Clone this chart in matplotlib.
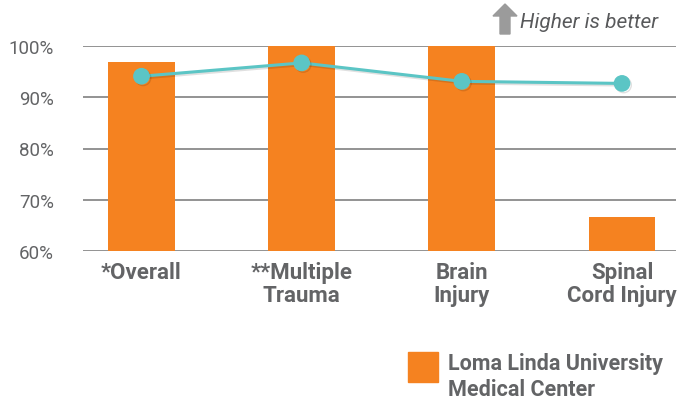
import matplotlib
matplotlib.use("Agg")
import matplotlib.pyplot as plt
import matplotlib.patheffects as pe
from matplotlib.patches import FancyArrow, Rectangle

categories = ["*Overall", "**Multiple\nTrauma", "Brain\nInjury", "Spinal\nCord Injury"]
bar_values = [96.9, 100.0, 100.0, 66.6]
line_values = [94.1, 96.7, 93.1, 92.7]
y_ticks = [60, 70, 80, 90, 100]
y_tick_labels = ["60%", "70%", "80%", "90%", "100%"]
legend_label = "Loma Linda University\nMedical Center"
note_text = "Higher is better"

ORANGE = "#f58220"
TEAL = "#5bc5c5"
GREY = "#636466"
FONT = ["Roboto", "DejaVu Sans"]

fig = plt.figure(figsize=(6.78, 4.02), dpi=100)
W, H = 678, 402
ax = fig.add_axes([83 / W, 1 - 252 / H, (676 - 83) / W, (252 - 47) / H])

x = list(range(len(categories)))
ax.bar(x, bar_values, width=0.418, color=ORANGE, zorder=3, bottom=0)
ax.set_ylim(60, 100)
ax.set_xlim(-0.365, 3.337)

for t in y_ticks:
    ax.axhline(t, color="#8a8a8a", lw=1.3, zorder=1)

ax.plot(x, line_values, color=TEAL, lw=2.2, marker="o", markersize=11,
        markerfacecolor=TEAL, markeredgecolor=TEAL, zorder=5, clip_on=False,
        path_effects=[pe.SimpleLineShadow(offset=(1.2, -1.2), alpha=0.12, shadow_color="black"), pe.Normal()])

for s in ax.spines.values():
    s.set_visible(False)
ax.set_yticks(y_ticks)
ax.set_yticklabels(y_tick_labels, family=FONT, fontsize=13.5, color=GREY)
ax.tick_params(axis="y", length=0, pad=21)
ax.set_xticks(x)
ax.set_xticklabels(categories, family=FONT, fontsize=16, fontweight="bold",
                   color=GREY, linespacing=1.02)
ax.tick_params(axis="x", length=0, pad=7.5)

# "Higher is better" note with arrow
fig.patches.append(FancyArrow(505 / W, 1 - 35 / H, 0, 18 / H, width=10 / W,
                              head_width=24 / W, head_length=12 / H, length_includes_head=False,
                              color="#9b9b9b", transform=fig.transFigure, figure=fig))
fig.text(520 / W, 1 - 23 / H, note_text, family=FONT, fontsize=15, style="italic",
         color="#58595b", va="center", ha="left")

# legend
fig.patches.append(Rectangle((408 / W, 1 - 383 / H), 30 / W, 30 / H, color=ORANGE,
                             transform=fig.transFigure, figure=fig))
fig.text(448 / W, 1 - 377 / H, legend_label, family=FONT, fontsize=15.5, fontweight="bold",
         color=GREY, va="center", ha="left", linespacing=1.25)

fig.savefig("out.png", dpi=100)
